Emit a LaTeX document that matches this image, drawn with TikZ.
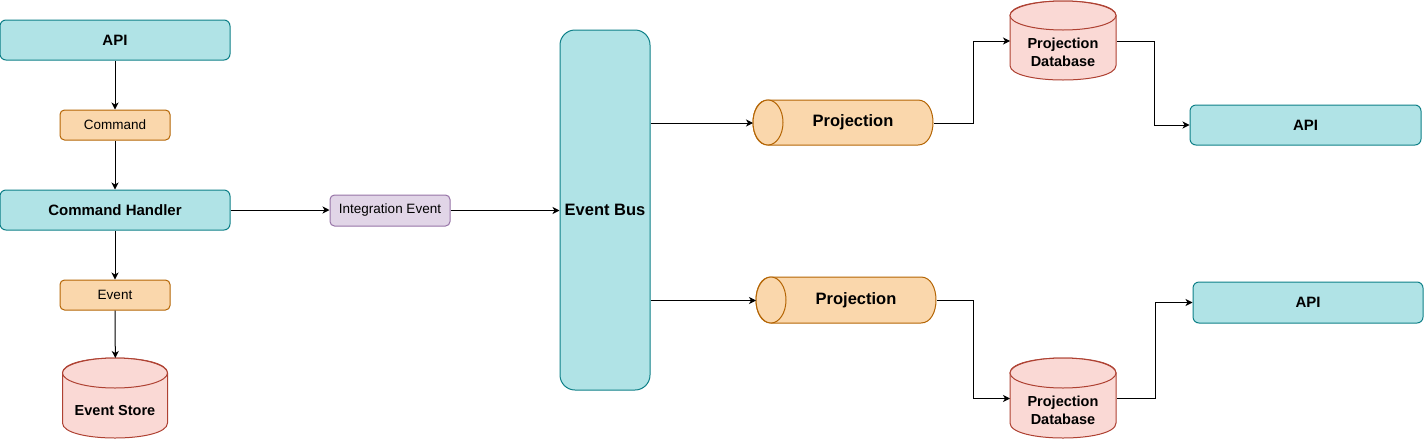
\documentclass[tikz,border=0pt]{standalone}
\usepackage{fontspec}
\setmainfont{Liberation Sans}
\usetikzlibrary{arrows.meta}
\definecolor{tealF}{HTML}{B0E3E6}
\definecolor{tealD}{HTML}{0E8088}
\definecolor{orF}{HTML}{FAD7AC}
\definecolor{orD}{HTML}{B46504}
\definecolor{puF}{HTML}{E1D5E7}
\definecolor{puD}{HTML}{9673A6}
\definecolor{reF}{HTML}{FAD9D5}
\definecolor{reD}{HTML}{AE4132}
\newcommand\drawVCyl[6]{% x0 y0 x1 y1 ry style
  \path[#6] (#1,{#2+#5}) -- (#1,{#4-#5}) .. controls (#1,{#4+#5/3}) and (#3,{#4+#5/3}) .. (#3,{#4-#5}) -- (#3,{#2+#5}) .. controls (#3,{#2-#5/3}) and (#1,{#2-#5/3}) .. cycle;
  \path[#6] ({(#1+#3)/2},{#2+#5}) ellipse[x radius={(#3-#1)/2}, y radius=#5];
}
\newcommand\drawHCyl[6]{% x0 y0 x1 y1 rx style
  \path[#6] ({#1+#5},#2) -- ({#3-#5},#2) .. controls ({#3+#5/3},#2) and ({#3+#5/3},#4) .. ({#3-#5},#4) -- ({#1+#5},#4) .. controls ({#1-#5/3},#4) and ({#1-#5/3},#2) .. cycle;
  \path[#6] ({#1+#5},{(#2+#4)/2}) ellipse[x radius=#5, y radius={(#4-#2)/2}];
}
\begin{document}
\begin{tikzpicture}[x=1pt,y=-1pt,line width=1pt,
  tealbox/.style={draw=tealD,fill=tealF,rectangle,rounded corners=6pt,inner sep=0pt,font=\bfseries\fontsize{15}{18}\selectfont},
  orbox/.style={draw=orD,fill=orF,rectangle,rounded corners=4.5pt,inner sep=0pt,font=\fontsize{13.5}{16}\selectfont},
  pubox/.style={draw=puD,fill=puF,rectangle,rounded corners=4.5pt,inner sep=0pt,font=\fontsize{13.5}{16}\selectfont},
  busbox/.style={draw=tealD,fill=tealF,rectangle,rounded corners=15pt,inner sep=0pt,font=\bfseries\fontsize{16.5}{20}\selectfont},
  orcyl/.style={draw=orD,fill=orF},
  recyl/.style={draw=reD,fill=reF},
  holder/.style={rectangle,inner sep=0pt,anchor=north west},
  bigtxt/.style={font=\bfseries\fontsize{16.5}{20}\selectfont},
  dbtxt/.style={font=\bfseries\fontsize{14.5}{18}\selectfont,align=center},
  conn/.style={-{Stealth[length=7pt,width=7pt,inset=2pt]},line width=1pt}]
\useasboundingbox (0,0) rectangle (1424,440);

% left column
\node[tealbox,minimum width=230pt,minimum height=40pt] (api) at (115,40) {API};
\node[orbox,minimum width=110pt,minimum height=30pt] (cmd) at (115,125) {Command};
\node[tealbox,minimum width=230pt,minimum height=40pt] (ch) at (115,210) {Command Handler};
\node[orbox,minimum width=110pt,minimum height=30pt] (ev) at (115,295) {Event};
\drawVCyl{62.5}{358}{167.5}{438}{15}{recyl}
\node[holder,minimum width=105pt,minimum height=80pt] (es) at (62.5,358) {};
\node[dbtxt] (estxt) at (115,410) {Event Store};

% middle
\node[pubox,minimum width=120pt,minimum height=31pt] (ie) at (390,210.5) {Integration Event};
\node[busbox,minimum width=90pt,minimum height=360pt] (bus) at (605,210) {Event Bus};

% projections
\drawHCyl{753}{100}{933}{145}{15}{orcyl}
\node[holder,minimum width=180pt,minimum height=45pt] (p1) at (753,100) {};
\node[bigtxt] (p1txt) at (853,122) {Projection};
\drawHCyl{756}{277}{936}{323}{15}{orcyl}
\node[holder,minimum width=180pt,minimum height=46pt] (p2) at (756,277) {};
\node[bigtxt] (p2txt) at (856,300) {Projection};

% databases
\drawVCyl{1010}{1}{1116}{80}{14.5}{recyl}
\node[holder,minimum width=106pt,minimum height=79pt] (db1) at (1010,1) {};
\node[dbtxt] (db1txt) at (1063,52) {Projection\\Database};
\drawVCyl{1010}{358}{1116}{438}{15}{recyl}
\node[holder,minimum width=106pt,minimum height=80pt] (db2) at (1010,358) {};
\node[dbtxt] (db2txt) at (1063,410) {Projection\\Database};

% right APIs
\node[tealbox,minimum width=231pt,minimum height=40pt] (api1) at (1305.5,125) {API};
\node[tealbox,minimum width=230pt,minimum height=41pt] (api2) at (1308,302.5) {API};

% connectors
\draw[conn] (api) -- (cmd);
\draw[conn] (cmd) -- (ch);
\draw[conn] (ch) -- (ev);
\draw[conn] (ev) -- (es);
\draw[conn] (ch.east) -- (ch.east -| ie.west);
\draw[conn] (ie.east) -- (ie.east -| bus.west);
\draw[conn] (bus.east |- p1.west) -- (p1.west);
\draw[conn] (bus.east |- p2.west) -- (p2.west);
\draw[conn] (p1.east) -- ++(39,0) |- (db1.west);
\draw[conn] (db1.east) -- ++(37,0) |- (api1.west);
\draw[conn] (p2.east) -- ++(36,0) |- (db2.west);
\draw[conn] (db2.east) -- ++(38,0) |- (api2.west);
\end{tikzpicture}
\end{document}
